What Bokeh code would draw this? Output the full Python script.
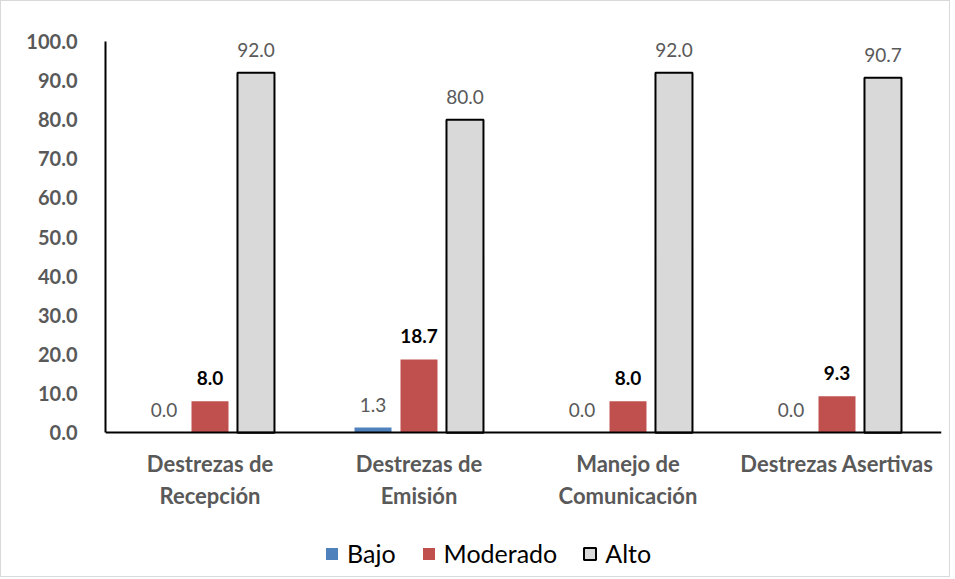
from bokeh.plotting import figure
from bokeh.models import ColumnDataSource, FactorRange, Range1d, Legend, LegendItem, CustomJSTickFormatter
from bokeh.transform import dodge
from bokeh.core.properties import value
from bokeh.embed import file_html
from bokeh.resources import INLINE

categories = ["Destrezas de\nRecepción", "Destrezas de\nEmisión", "Manejo de\nComunicación", "Destrezas Asertivas"]
bajo = [0.0, 1.3, 0.0, 0.0]
moderado = [8.0, 18.7, 8.0, 9.3]
alto = [92.0, 80.0, 92.0, 90.7]
y_ticks = [0, 10, 20, 30, 40, 50, 60, 70, 80, 90, 100]

src = ColumnDataSource(dict(
    cat=categories,
    bajo=bajo, moderado=moderado, alto=alto,
    bajo_l=["%.1f" % v for v in bajo],
    moderado_l=["%.1f" % v for v in moderado],
    alto_l=["%.1f" % v for v in alto],
))

FONT = "Lato"
p = figure(x_range=FactorRange(*categories, range_padding=0), y_range=Range1d(-35.5, 105.1),
           frame_width=836, frame_height=550, output_backend="svg", toolbar_location=None,
           min_border_left=104, min_border_right=8, min_border_top=20, min_border_bottom=5)
p.styles = {"border": "1px solid #d9d9d9"}
p.outline_line_color = None
p.xgrid.grid_line_color = None
p.ygrid.grid_line_color = None

bw = 0.177
off = 0.22
r_b = p.vbar(x=dodge("cat", -off, range=p.x_range), top="bajo", width=bw, source=src,
             fill_color="#4f81bd", line_color=None)
r_m = p.vbar(x=dodge("cat", 0, range=p.x_range), top="moderado", width=bw, source=src,
             fill_color="#c0504d", line_color=None)
r_a = p.vbar(x=dodge("cat", off, range=p.x_range), top="alto", width=bw, source=src,
             fill_color="#d9d9d9", line_color="black", line_width=2)

p.text(x=dodge("cat", -off, range=p.x_range), y="bajo", text="bajo_l", source=src,
       text_align="center", text_baseline="alphabetic", y_offset=-23,
       text_font=value(FONT), text_font_size="19px", text_color="#595959")
p.text(x=dodge("cat", 0, range=p.x_range), y="moderado", text="moderado_l", source=src,
       text_align="center", text_baseline="alphabetic", y_offset=-23,
       text_font=value(FONT), text_font_size="19px", text_color="black", text_font_style="bold")
p.text(x=dodge("cat", off, range=p.x_range), y="alto", text="alto_l", source=src,
       text_align="center", text_baseline="alphabetic", y_offset=-23,
       text_font=value(FONT), text_font_size="19px", text_color="#595959")

p.xaxis.fixed_location = 0
p.yaxis.ticker = y_ticks
p.yaxis.bounds = (0, 100)
p.yaxis.formatter = CustomJSTickFormatter(code="return tick.toFixed(1);")
for ax in (p.xaxis, p.yaxis):
    ax.axis_line_color = "black"
    ax.axis_line_width = 2
    ax.major_tick_line_color = None
    ax.minor_tick_line_color = None
    ax.major_label_text_font = FONT
    ax.major_label_text_font_style = "bold"
    ax.major_label_text_color = "#595959"
p.yaxis.major_label_text_font_size = "20px"
p.xaxis.major_label_text_font_size = "22px"
p.yaxis.major_label_standoff = 22
p.xaxis.major_label_standoff = 11

legend = Legend(items=[LegendItem(label="Bajo", renderers=[r_b]),
                       LegendItem(label="Moderado", renderers=[r_m]),
                       LegendItem(label="Alto", renderers=[r_a])],
                orientation="horizontal", location=(219, 3), margin=0, padding=6,
                label_text_font=FONT, label_text_font_size="25px", label_text_color="black",
                glyph_width=15, glyph_height=15, spacing=25, label_standoff=8,
                border_line_color=None, background_fill_alpha=0)
p.add_layout(legend, "center")

open("out.html", "w").write(file_html(p, INLINE))
